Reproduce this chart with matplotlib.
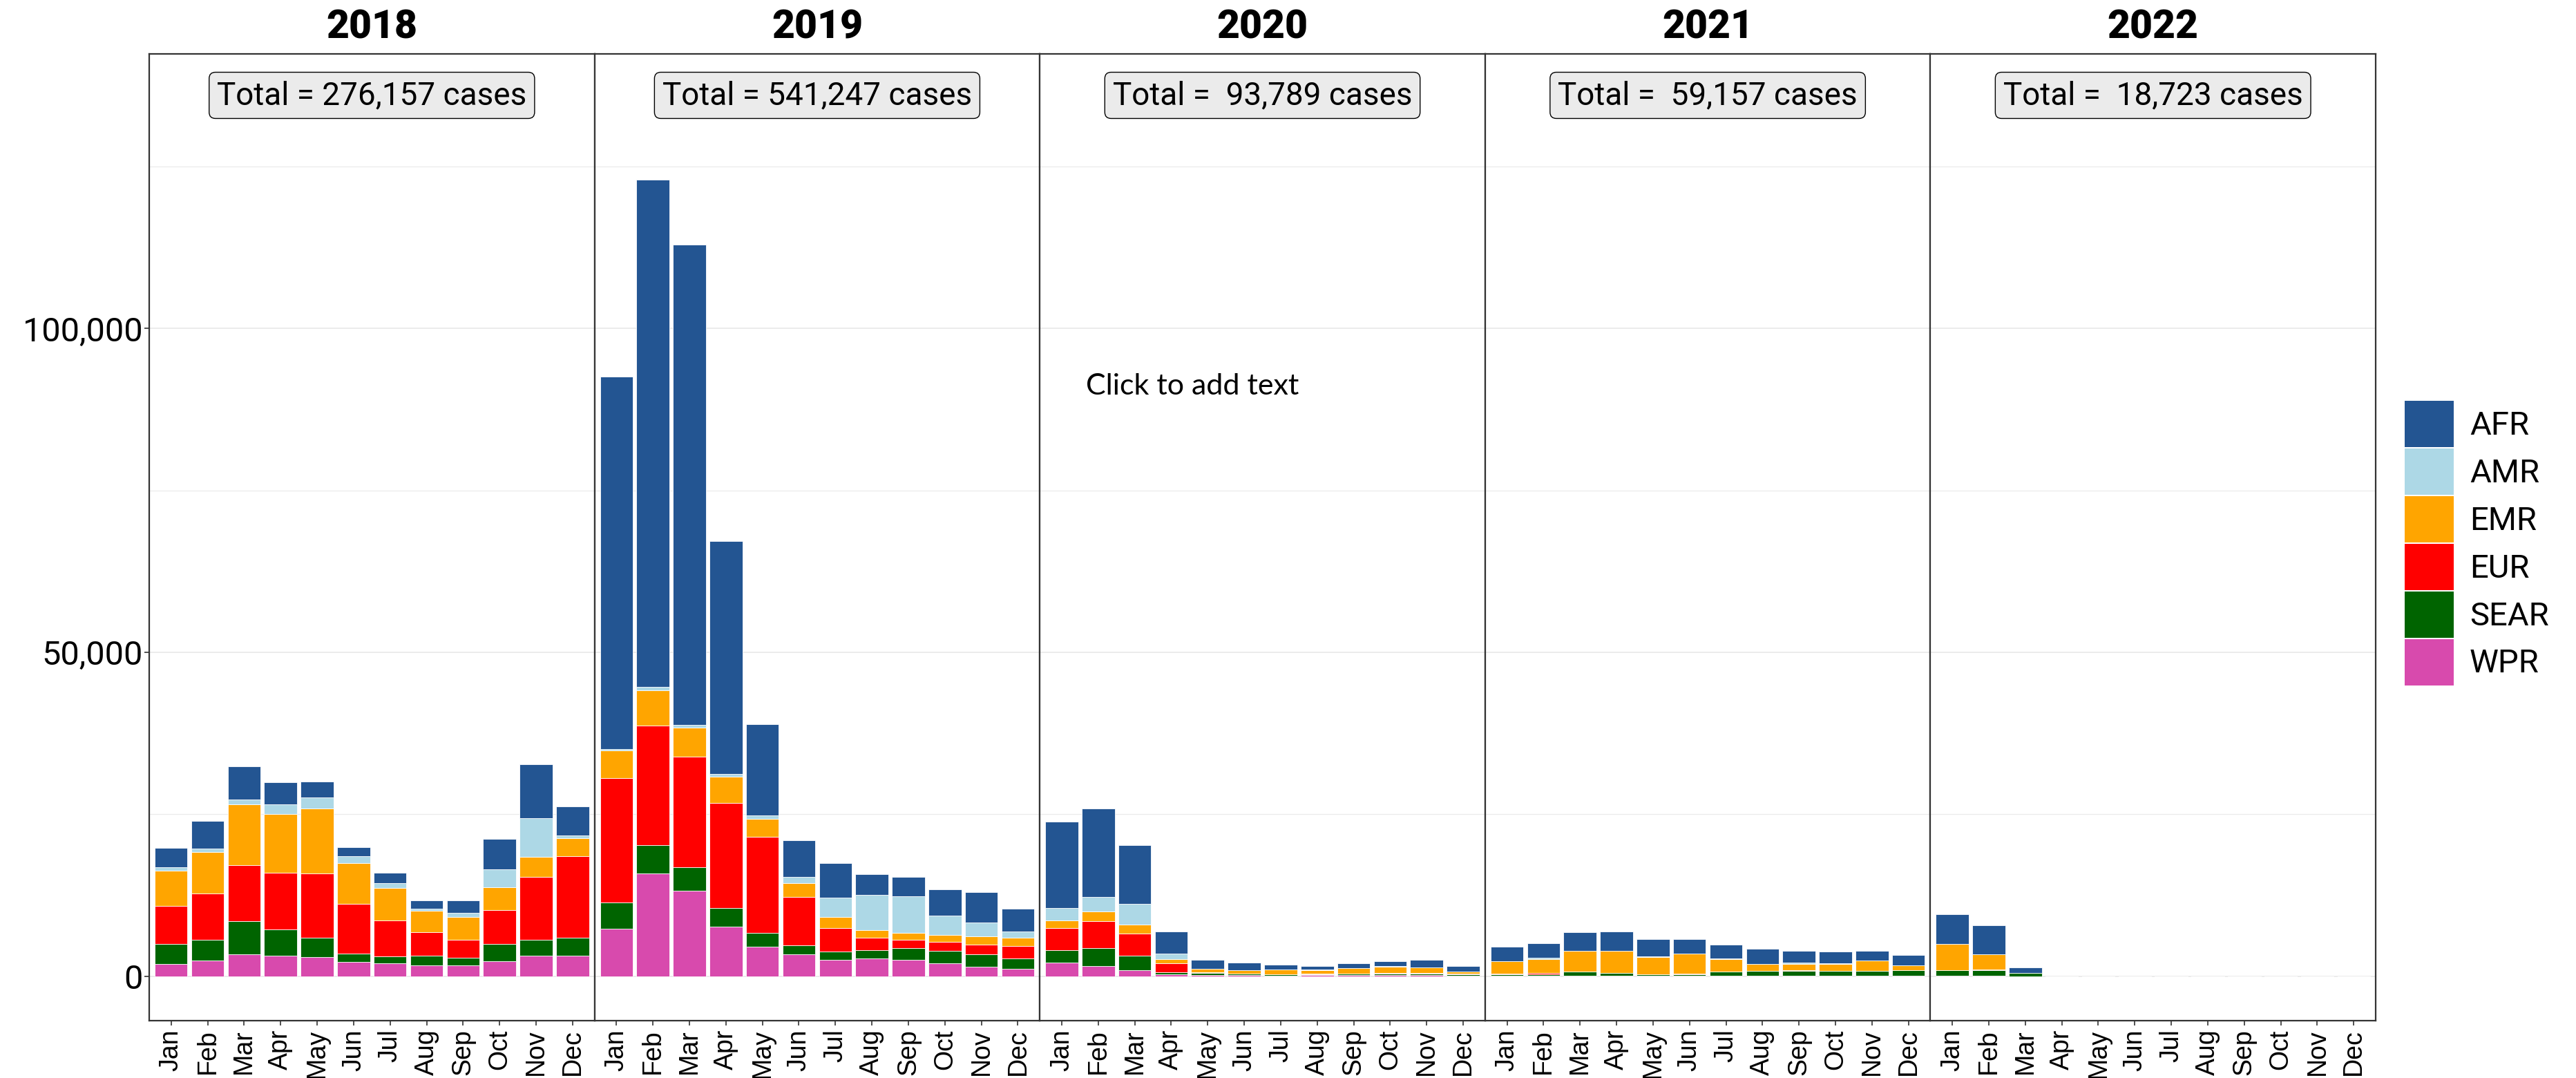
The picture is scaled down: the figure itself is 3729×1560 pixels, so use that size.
"""Monthly cases by WHO region, faceted by year (2018-2022), stacked bars."""
import matplotlib
matplotlib.use("Agg")
import matplotlib.pyplot as plt
import matplotlib.transforms as mtransforms
from matplotlib.patches import Patch
from matplotlib.ticker import FuncFormatter, MultipleLocator

plt.rcParams.update({
    "font.family": ["Roboto", "DejaVu Sans"],
    "axes.edgecolor": "#333333",
    "axes.linewidth": 1.6,
})

YEARS = ["2018", "2019", "2020", "2021", "2022"]
MONTHS = ["Jan", "Feb", "Mar", "Apr", "May", "Jun",
          "Jul", "Aug", "Sep", "Oct", "Nov", "Dec"]
TOTAL_LABELS = ["Total = 276,157 cases", "Total = 541,247 cases",
                "Total =  93,789 cases", "Total =  59,157 cases",
                "Total =  18,723 cases"]

# legend order (top of stack first)
REGIONS = ["AFR", "AMR", "EMR", "EUR", "SEAR", "WPR"]
COLORS = ["#235592", "#ADD8E6", "#FFA500", "#FF0000", "#006400", "#D84AAD"]

# monthly values, one row per year (2018 .. 2022)
AFR = [
    2960, 4250, 5050, 3440, 2480, 1440, 1520, 1280, 1920, 4730, 8330, 4410,
    57560, 78320, 74170, 35980, 14110, 5720, 5350, 3230, 2950, 3970, 4700, 3510,
    13420, 13640, 9070, 3320, 1390, 1080, 760, 580, 760, 810, 1210, 850,
    2170, 2240, 2880, 2990, 2670, 2240, 2140, 2350, 1820, 1780, 1500, 1600,
    4580, 4470, 850, 0, 0, 0, 0, 0, 0, 0, 0, 0,
]
AMR = [
    480, 480, 800, 1440, 1680, 1040, 800, 320, 720, 2800, 6010, 480,
    200, 550, 460, 370, 460, 920, 3040, 5440, 5630, 3040, 2120, 1010,
    1840, 2330, 3280, 940, 90, 50, 40, 90, 40, 40, 40, 40,
    70, 180, 40, 40, 110, 40, 110, 40, 110, 140, 40, 40,
    30, 30, 0, 0, 0, 0, 0, 0, 0, 0, 0, 0,
]
EMR = [
    5530, 6490, 9370, 9050, 10090, 6330, 5050, 3280, 3520, 3520, 3040, 2720,
    4240, 5350, 4520, 4060, 2860, 2120, 1660, 1110, 1110, 1110, 1290, 1200,
    1170, 1480, 1300, 630, 490, 540, 720, 490, 810, 1030, 850, 310,
    1920, 2170, 3200, 3420, 2670, 3100, 1920, 1070, 1030, 1070, 1600, 750,
    4050, 2310, 10, 0, 0, 0, 0, 0, 0, 0, 0, 0,
]
EUR = [
    5850, 7130, 8650, 8810, 9930, 7610, 5530, 3600, 2720, 5210, 9770, 12660,
    19190, 18450, 16970, 16240, 14760, 7470, 3600, 1940, 1290, 1290, 1480, 1940,
    3410, 4080, 3410, 1350, 130, 40, 30, 130, 40, 40, 40, 40,
    20, 110, 20, 20, 20, 20, 20, 20, 140, 20, 20, 20,
    20, 110, 0, 0, 0, 0, 0, 0, 0, 0, 0, 0,
]
SEAR = [
    3040, 3200, 5130, 4000, 2960, 1280, 1040, 1520, 1200, 2640, 2400, 2720,
    4150, 4430, 3690, 2860, 2120, 1380, 1380, 1290, 1850, 1940, 1940, 1570,
    2020, 2780, 2330, 310, 270, 180, 130, 130, 220, 270, 270, 220,
    280, 280, 610, 390, 180, 280, 610, 710, 710, 710, 710, 820,
    820, 850, 530, 0, 0, 0, 0, 0, 0, 0, 0, 0,
]
WPR = [
    1920, 2400, 3360, 3200, 2960, 2240, 2000, 1680, 1680, 2320, 3200, 3200,
    7290, 15870, 13190, 7660, 4610, 3410, 2490, 2770, 2490, 2030, 1480, 1200,
    2060, 1620, 900, 310, 220, 180, 130, 180, 180, 180, 180, 130,
    70, 70, 70, 70, 70, 70, 70, 70, 70, 70, 70, 70,
    90, 90, 5, 0, 0, 0, 0, 0, 0, 0, 0, 0,
]
SERIES = [AFR, AMR, EMR, EUR, SEAR, WPR]

W, H = 3729, 1560
fig, axes = plt.subplots(1, 5, sharey=True, figsize=(W / 100, H / 100), dpi=100)
fig.subplots_adjust(left=216 / W, right=3439 / W, top=1 - 78 / H,
                    bottom=1 - 1477 / H, wspace=0)

x = list(range(1, 13))
for i, ax in enumerate(axes):
    sl = slice(12 * i, 12 * (i + 1))
    bottom = [0.0] * 12
    # draw from the bottom of the stack (WPR) up to AFR
    for vals, col in zip(SERIES[::-1], COLORS[::-1]):
        v = vals[sl]
        ax.bar(x, v, width=0.9, bottom=bottom, color=col,
               edgecolor="white", linewidth=0.6, zorder=3)
        bottom = [b + a for b, a in zip(bottom, v)]

    ax.set_xlim(0.4, 12.6)
    ax.set_ylim(-6850, 142400)
    ax.yaxis.set_major_locator(MultipleLocator(50000))
    ax.yaxis.set_minor_locator(MultipleLocator(25000))
    ax.grid(True, which="major", axis="y", color="#EBEBEB", linewidth=1.4, zorder=0)
    ax.grid(True, which="minor", axis="y", color="#EBEBEB", linewidth=0.9, zorder=0)
    ax.set_axisbelow(True)

    ax.set_xticks(x)
    ax.set_xticklabels(MONTHS, rotation=90, fontsize=27,
                       family=["Liberation Sans", "DejaVu Sans"])
    ax.tick_params(axis="x", length=5, width=1.2, color="#333333", pad=4)
    ax.tick_params(axis="y", which="minor", length=0)
    if i == 0:
        ax.tick_params(axis="y", which="major", length=5, width=1.2,
                       color="#333333", labelsize=35, pad=2)
        ax.yaxis.set_major_formatter(FuncFormatter(lambda v, p: f"{int(v):,}"))
    else:
        ax.tick_params(axis="y", which="major", length=0)

    ax.text(0.5, 1 + 38 / 1399, YEARS[i], transform=ax.transAxes,
            ha="center", va="center", fontsize=41, fontweight="heavy")

    trans = mtransforms.blended_transform_factory(ax.transAxes, ax.transData)
    ax.text(0.5, 136000, TOTAL_LABELS[i], transform=trans, ha="center",
            va="center", fontsize=33, zorder=5,
            bbox=dict(boxstyle="round,pad=0.25,rounding_size=0.2",
                      facecolor="#EBEBEB", edgecolor="black", linewidth=1.0))

fig.text(1572 / W, 1 - 559 / H, "Click to add text", fontsize=31,
         family=["Lato", "DejaVu Sans"], ha="left", va="center")

handles = [Patch(facecolor=c, edgecolor="none") for c in COLORS]
fig.legend(handles, REGIONS, loc="center left",
           bbox_to_anchor=(3481 / W, 1 - 786 / H), frameon=False,
           fontsize=34, handlelength=1.5, handleheight=1.8,
           handletextpad=0.49, labelspacing=0.044, borderpad=0,
           borderaxespad=0)

fig.savefig("out.png", dpi=100)
